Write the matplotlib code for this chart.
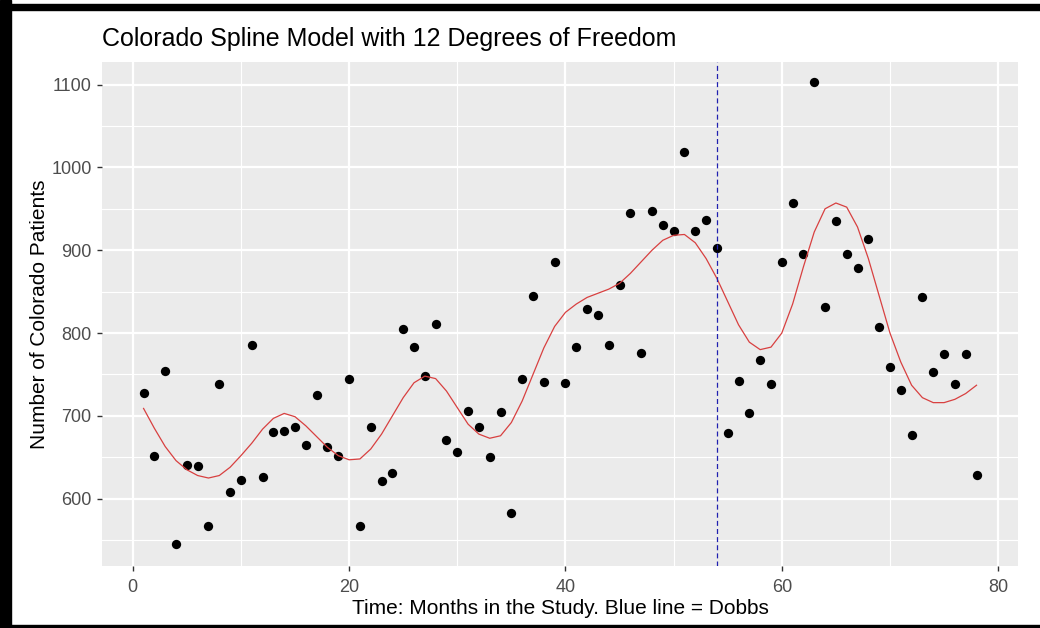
import numpy as np
import matplotlib.pyplot as plt
from matplotlib.patches import Rectangle

plt.rcParams['font.family'] = ['Liberation Sans', 'DejaVu Sans']

# monthly patient counts
months = list(range(1, 79))
patients = [728, 651, 754, 545, 641, 640, 567, 738, 608, 623,
            785, 626, 680, 682, 687, 665, 725, 662, 651, 745,
            567, 687, 622, 631, 805, 783, 748, 811, 671, 656,
            706, 686, 650, 705, 583, 745, 845, 741, 886, 740,
            783, 829, 822, 785, 858, 945, 776, 947, 931, 923,
            1018, 923, 937, 903, 679, 742, 704, 768, 739, 886,
            957, 896, 1103, 831, 935, 895, 878, 913, 807, 759,
            731, 677, 843, 753, 775, 739, 775, 629]

# fitted spline (12 df)
spline_fit = [709, 685, 663, 646, 635, 628, 625, 628, 638, 652,
              667, 684, 697, 703, 699, 688, 675, 662, 652, 647,
              648, 660, 678, 700, 722, 740, 748, 745, 730, 710,
              690, 678, 673, 676, 692, 718, 750, 782, 808, 825,
              835, 843, 848, 853, 860, 872, 886, 900, 912, 918,
              919, 909, 890, 866, 838, 810, 789, 780, 783, 800,
              835, 880, 922, 950, 957, 952, 928, 890, 845, 800,
              765, 737, 722, 716, 716, 720, 727, 737]

dobbs_month = 54

fig = plt.figure(figsize=(10.4, 6.28), dpi=100)
ax = fig.add_axes([0.098, 0.099, 0.881, 0.802])

ax.set_facecolor('#EBEBEB')
for s in ax.spines.values():
    s.set_visible(False)

ax.set_xlim(-2.85, 81.85)
ax.set_ylim(519, 1127)
ax.set_xticks([0, 20, 40, 60, 80])
ax.set_xticks([10, 30, 50, 70], minor=True)
ax.set_yticks([600, 700, 800, 900, 1000, 1100])
ax.set_yticks(np.arange(550, 1101, 100), minor=True)
ax.grid(which='major', color='white', linewidth=1.6)
ax.grid(which='minor', color='white', linewidth=0.8)
ax.set_axisbelow(True)
ax.tick_params(which='major', colors='#333333', length=3.5, width=1,
               labelsize=13, labelcolor='#4D4D4D', pad=4)
ax.tick_params(axis='x', which='major', pad=6)
ax.tick_params(which='minor', length=0)

ax.scatter(months, patients, s=45, color='black', zorder=3, linewidths=0)
ax.plot(months, spline_fit, color='#D84040', linewidth=0.9, zorder=4)
ax.axvline(dobbs_month, color='#2020B0', linewidth=0.9, linestyle=(0, (4, 2.5)), zorder=5)

ax.set_title('Colorado Spline Model with 12 Degrees of Freedom', loc='left',
             fontsize=18, pad=12)
ax.set_xlabel('Time: Months in the Study. Blue line = Dobbs', fontsize=15, labelpad=2.5)
ax.set_ylabel('Number of Colorado Patients', fontsize=15, labelpad=1.5)

# black frame around the screenshot
fig.patches.append(Rectangle((0, 0), 11 / 1040, 1, transform=fig.transFigure,
                             color='black', zorder=10))
fig.patches.append(Rectangle((0, 1 - 10 / 628), 1, 6 / 628, transform=fig.transFigure,
                             color='black', zorder=10))
fig.patches.append(Rectangle((0, 0), 1, 3 / 628, transform=fig.transFigure,
                             color='black', zorder=10))

fig.savefig('out.png', dpi=100)
